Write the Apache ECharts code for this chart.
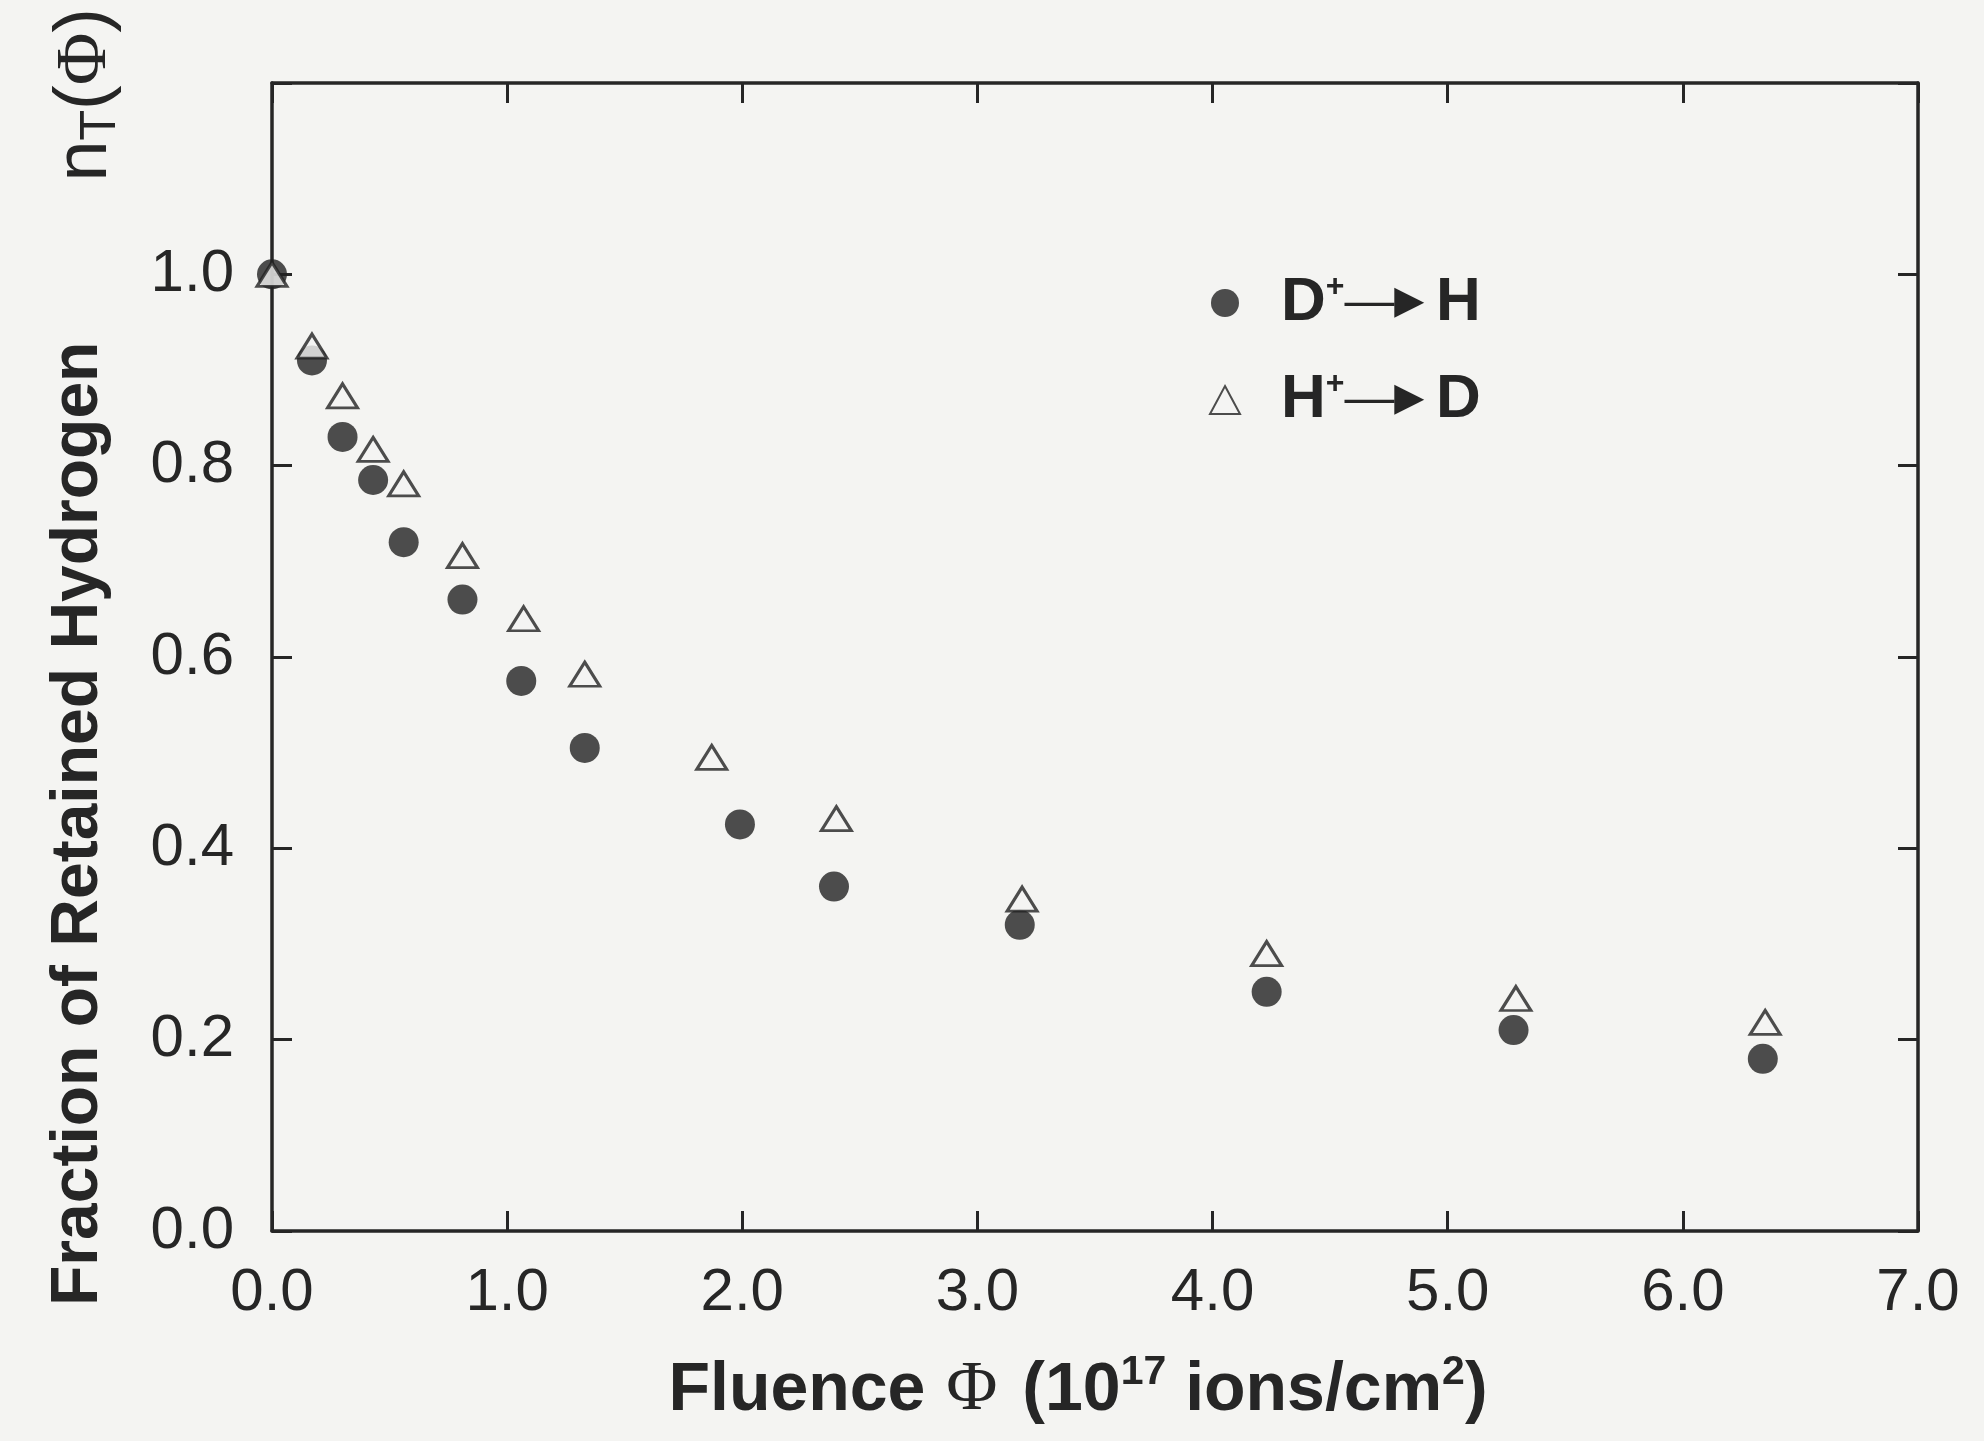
<!DOCTYPE html>
<html><head><meta charset="utf-8">
<script src="https://cdn.jsdelivr.net/npm/echarts@6/dist/echarts.min.js"></script>
<style>html,body{margin:0;padding:0;background:#f4f4f2}#c{width:1984px;height:1441px}</style>
</head><body><div id="c"></div>
<script>
// D+ -> H (filled circles)
const fluenceDH  = [0.0, 0.17, 0.30, 0.43, 0.56, 0.81, 1.06, 1.33, 1.99, 2.39, 3.18, 4.23, 5.28, 6.34];
const retainedDH = [1.0, 0.91, 0.83, 0.785, 0.72, 0.66, 0.575, 0.505, 0.425, 0.36, 0.32, 0.25, 0.21, 0.18];
// H+ -> D (open triangles)
const fluenceHD  = [0.0, 0.17, 0.30, 0.43, 0.56, 0.81, 1.07, 1.33, 1.87, 2.40, 3.19, 4.23, 5.29, 6.35];
const retainedHD = [1.0, 0.925, 0.873, 0.817, 0.781, 0.706, 0.64, 0.582, 0.495, 0.431, 0.347, 0.29, 0.243, 0.218];
const seriesNames = ['D+->H', 'H+->D'];
const xRange = [0, 7, 1];
const yRange = [0, 1.2, 0.2];

const ink = '#262626';
const bg = '#f4f4f2';
const chart = echarts.init(document.getElementById('c'));
const zip = (a, b) => a.map((v, i) => [v, b[i]]);

const axisCommon = {
  axisLine: { show: true, onZero: false, lineStyle: { color: ink, width: 3.5 } },
  axisTick: { show: true, inside: true, length: 20, lineStyle: { color: ink, width: 3 } },
  splitLine: { show: false }
};

chart.setOption({
  backgroundColor: bg,
  animation: false,
  grid: { left: 272, right: 66, top: 83, bottom: 210, outerBoundsMode: 'none' },
  xAxis: [
    Object.assign({
      type: 'value', min: xRange[0], max: xRange[1], interval: xRange[2], position: 'bottom',
      axisLabel: { color: ink, fontSize: 60, fontFamily: 'Liberation Sans', margin: 32,
        formatter: v => v.toFixed(1) },
      name: '{t|Fluence }{p|Φ}{t| (10}{s|17}{t| ions/cm}{s|2}{e|)}',
      nameLocation: 'middle', nameGap: 121,
      nameTextStyle: {
        rich: {
          t: { fontSize: 68, fontWeight: 'bold', fontFamily: 'Liberation Sans', color: ink, lineHeight: 78 },
          p: { fontSize: 70, fontFamily: 'Liberation Serif', color: ink, lineHeight: 78, padding: [0, 6, 0, 2] },
          s: { fontSize: 41, fontWeight: 'bold', fontFamily: 'Liberation Sans', color: ink, verticalAlign: 'top', lineHeight: 40 },
          e: { fontSize: 68, fontWeight: 'bold', fontFamily: 'Liberation Sans', color: ink, lineHeight: 78, padding: [0, 34, 0, 0] }
        }
      }
    }, axisCommon),
    Object.assign({
      type: 'value', min: xRange[0], max: xRange[1], interval: xRange[2], position: 'top',
      axisLabel: { show: false }
    }, axisCommon)
  ],
  yAxis: [
    Object.assign({
      type: 'value', min: yRange[0], max: yRange[1], interval: yRange[2], position: 'left',
      axisLabel: { color: ink, fontSize: 60, fontFamily: 'Liberation Sans', margin: 38,
        formatter: v => (v > 1.05 ? '' : v.toFixed(1)) },
      name: '{t|Fraction of Retained Hydrogen}{g|}{n|n}{b|T}{n|(}{p|Φ}{n|)}',
      nameLocation: 'middle', nameRotate: 90, nameGap: 146,
      nameTextStyle: {
        rich: {
          t: { fontSize: 66, fontWeight: 'bold', fontFamily: 'Liberation Sans', color: ink, lineHeight: 66, verticalAlign: 'top' },
          g: { width: 160, lineHeight: 10 },
          n: { fontSize: 74, fontFamily: 'Liberation Sans', color: ink, lineHeight: 80 },
          b: { fontSize: 50, fontFamily: 'Liberation Sans', color: ink, lineHeight: 40, verticalAlign: 'bottom' },
          p: { fontSize: 72, fontFamily: 'Liberation Serif', color: ink, lineHeight: 80 }
        }
      }
    }, axisCommon),
    Object.assign({
      type: 'value', min: yRange[0], max: yRange[1], interval: yRange[2], position: 'right',
      axisLabel: { show: false }
    }, axisCommon)
  ],
  legend: {
    orient: 'vertical', left: 1204, top: 266, itemGap: 34,
    itemWidth: 30, itemHeight: 28, selectedMode: false,
    data: [
      { name: seriesNames[0], icon: 'circle' },
      { name: seriesNames[1], icon: 'triangle' }
    ],
    formatter: n => n === seriesNames[0]
      ? '{a|D}{s|+}{d|—}{h|►}{c|H}'
      : '{a|H}{s|+}{d|—}{h|►}{c|D}',
    textStyle: {
      padding: [0, 0, 0, 36],
      rich: {
        a: { fontSize: 62, fontWeight: 'bold', fontFamily: 'Liberation Sans', color: ink, lineHeight: 64 },
        c: { fontSize: 62, fontWeight: 'bold', fontFamily: 'Liberation Sans', color: ink, lineHeight: 64, padding: [0, 0, 0, 2] },
        s: { fontSize: 32, fontWeight: 'bold', fontFamily: 'Liberation Sans', color: ink, verticalAlign: 'top', lineHeight: 34 },
        d: { fontSize: 50, fontFamily: 'Liberation Sans', color: ink, lineHeight: 64 },
        h: { fontSize: 50, fontFamily: 'Liberation Sans', color: ink, lineHeight: 64, padding: [0, 0, 0, -10] }
      }
    }
  },
  series: [
    {
      name: seriesNames[0], type: 'scatter', clip: false,
      symbol: 'circle', symbolSize: 30,
      itemStyle: { color: '#222222' },
      data: zip(fluenceDH, retainedDH)
    },
    {
      name: seriesNames[1], type: 'scatter', clip: false,
      symbol: 'triangle', symbolSize: [30, 24],
      itemStyle: { color: bg, borderColor: '#222222', borderWidth: 3 },
      data: zip(fluenceHD, retainedHD)
    }
  ]
});
</script></body></html>
